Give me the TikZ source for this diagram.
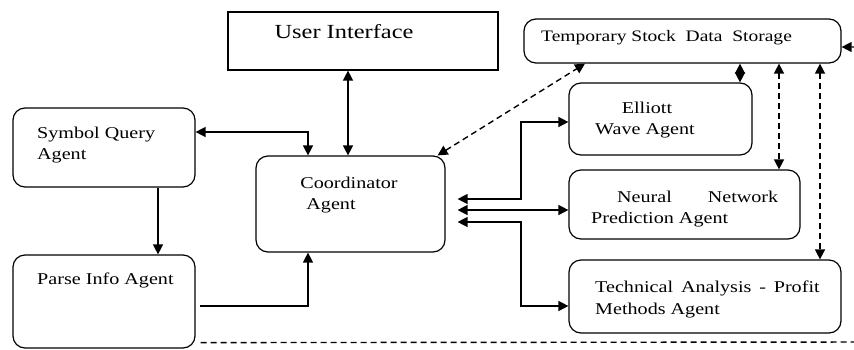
\documentclass[tikz,border=0pt]{standalone}
\usepackage{fontspec}
\usepackage{graphicx}
\setmainfont{Liberation Serif}
\usetikzlibrary{arrows.meta}
\newcommand{\hs}[1]{\scalebox{1.22}[1]{#1}}
\tikzset{
  box/.style={draw, line width=1.2pt, rounded corners=12pt, inner sep=0pt},
  sqbox/.style={draw, line width=1.2pt, inner sep=0pt},
  txt/.style={inner sep=0pt, font=\fontsize{16.5}{21}\selectfont, align=left},
  con/.style={line width=1.4pt, -{Triangle[length=10pt,width=10pt]}},
  dbl/.style={line width=1.4pt, {Triangle[length=10pt,width=10pt]}-{Triangle[length=10pt,width=10pt]}},
  dsh/.style={dash pattern=on 6pt off 4pt}
}
\begin{document}
\begin{tikzpicture}[x=1pt,y=-1pt]
\useasboundingbox (0,0) rectangle (854,349);
\clip (0,0) rectangle (854,349);
% boxes
\node[sqbox, minimum width=270pt, minimum height=58pt] (ui) at (363,41) {};
\node[box, minimum width=317pt, minimum height=44pt] (storage) at (682.5,41) {};
\node[box, minimum width=182pt, minimum height=79pt] (symbol) at (104,147.5) {};
\node[box, minimum width=189pt, minimum height=96pt] (coord) at (350.5,204) {};
\node[box, minimum width=182pt, minimum height=93pt] (parse) at (104,301.5) {};
\node[box, minimum width=183pt, minimum height=72pt] (elliott) at (660.5,119) {};
\node[box, minimum width=231pt, minimum height=69pt] (neural) at (684.5,204.5) {};
\node[box, minimum width=272pt, minimum height=73pt] (tech) at (705,296.5) {};
% texts
\node[txt, font=\fontsize{20}{24}\selectfont] (uit) at (344,32) {\hs{User Interface}};
\node[txt, anchor=west, font=\fontsize{16}{20}\selectfont] (stt) at (541,38) {\hs{Temporary Stock\ \ Data\ \ Storage}};
\node[txt, anchor=west] (symt1) at (37,135) {\hs{Symbol Query}};
\node[txt, anchor=west] (symt2) at (37,156) {\hs{Agent}};
\node[txt] (coot1) at (349,183) {\hs{Coordinator}};
\node[txt] (coot2) at (331,206) {\hs{Agent}};
\node[txt, anchor=west] (part) at (37,280) {\hs{Parse Info Agent}};
\node[txt] (ellt1) at (647,108) {\hs{Elliott}};
\node[txt, anchor=west] (ellt2) at (595,131) {\hs{Wave Agent}};
\node[txt, anchor=west] (neut1) at (617,197) {\hs{\makebox[132pt][s]{Neural\hfill Network}}};
\node[txt, anchor=west] (neut2) at (591,220) {\hs{Prediction Agent}};
\node[txt, anchor=west] (tect1) at (595,288) {\hs{\makebox[184pt][s]{Technical\hfill Analysis\hfill -\hfill Profit}}};
\node[txt, anchor=west] (tect2) at (595,311) {\hs{Methods Agent}};
% helper coordinates
\coordinate (cr) at ([xshift=12pt]coord.east);
\coordinate (cne) at ([xshift=-8pt]coord.north east);
\coordinate (pb) at ([xshift=5pt,yshift=6pt]parse.south east);
\coordinate (far) at (880,342);
% connectors
\draw[dbl] (348,0 |- ui.south) -- (348,0 |- coord.north);
\draw[dbl] (symbol.east |- 0,132) -| (308,0 |- coord.north);
\draw[con] (158,0 |- symbol.south) -- (158,0 |- parse.north);
\draw[con] ([xshift=4pt]parse.east |- 0,306) -| (308,0 |- coord.south);
\draw[dbl] (cr |- 0,199) -| (521,122) -- (elliott.west |- 0,122);
\draw[dbl] (cr |- 0,210) -- (neural.west |- 0,210);
\draw[dbl] (cr |- 0,222) -| (521,306) -- (tech.west |- 0,306);
\draw[dbl, dsh] (cne) -- (585,0 |- storage.south);
\draw[dbl] (740,0 |- storage.south) -- (740,0 |- elliott.north);
\draw[dbl, dsh] (779,0 |- storage.south) -- (779,0 |- neural.north);
\draw[dbl, dsh] (820,0 |- storage.south) -- (820,0 |- tech.north);
\draw[con, dsh] (pb) -- (far) -- (far |- 0,47) -- (storage.east |- 0,47);
\end{tikzpicture}
\end{document}
